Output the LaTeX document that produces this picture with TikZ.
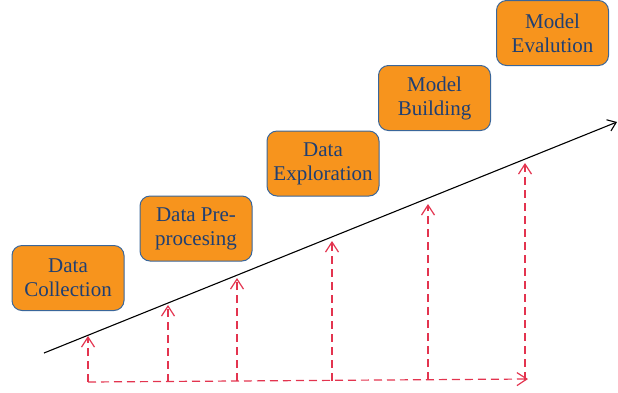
\documentclass[tikz,border=0pt]{standalone}
\usepackage{fontspec}
\setmainfont{Liberation Serif}
\usetikzlibrary{arrows.meta}
\definecolor{stageorange}{HTML}{F7941D}
\definecolor{stageblue}{HTML}{3A669A}
\definecolor{stagetext}{HTML}{1F3F73}
\definecolor{flowred}{HTML}{E3344F}

\begin{document}
\begin{tikzpicture}[x=1pt,y=-1pt]
\tikzstyle{stage}=[draw=stageblue,fill=stageorange,line width=1pt,rounded corners=10pt,text=stagetext,minimum width=112pt,minimum height=65pt,align=center,font=\fontsize{21}{24}\selectfont]
\tikzstyle{trend}=[line width=1.1pt,-{Straight Barb[length=8pt,width=12pt]}]
\tikzstyle{flow}=[line width=1.2pt,color=flowred,dash pattern=on 8pt off 5pt,-{Straight Barb[length=10pt,width=13pt]}]
\useasboundingbox (0,0) rectangle (618,392);
% stages
\node[stage] (collect) at (68,278) {Data\\Collection};
\node[stage] (prep) at (196,228.5) {Data Pre-\\procesing};
\node[stage] (explore) at (323,163.5) {Data\\Exploration};
\node[stage] (build) at (434.5,98) {Model\\Building};
\node[stage] (evaluate) at (552.5,33) {Model\\Evalution};
% trend line
\coordinate (start) at (44,353);
\coordinate (end) at (617,122);
\draw[trend] (start) -- (end);
% points on the trend line
\coordinate (up1) at (88,336);
\coordinate (up2) at (168,305);
\coordinate (up3) at (237,278);
\coordinate (up4) at (332,241);
\coordinate (up5) at (428,204);
\coordinate (up6) at (525,163);
% points on the base line
\coordinate (base1) at (88,382);
\coordinate (base2) at (168,381.5);
\coordinate (base3) at (237,381);
\coordinate (base4) at (332,380.5);
\coordinate (base5) at (428,380);
\coordinate (base6) at (525,379.5);
\coordinate (baseend) at (528,379);
\draw[flow] (base1) -- (baseend);
\draw[flow] (base1) -- (up1);
\draw[flow] (base2) -- (up2);
\draw[flow] (base3) -- (up3);
\draw[flow] (base4) -- (up4);
\draw[flow] (base5) -- (up5);
\draw[flow] (base6) -- (up6);
\end{tikzpicture}
\end{document}
